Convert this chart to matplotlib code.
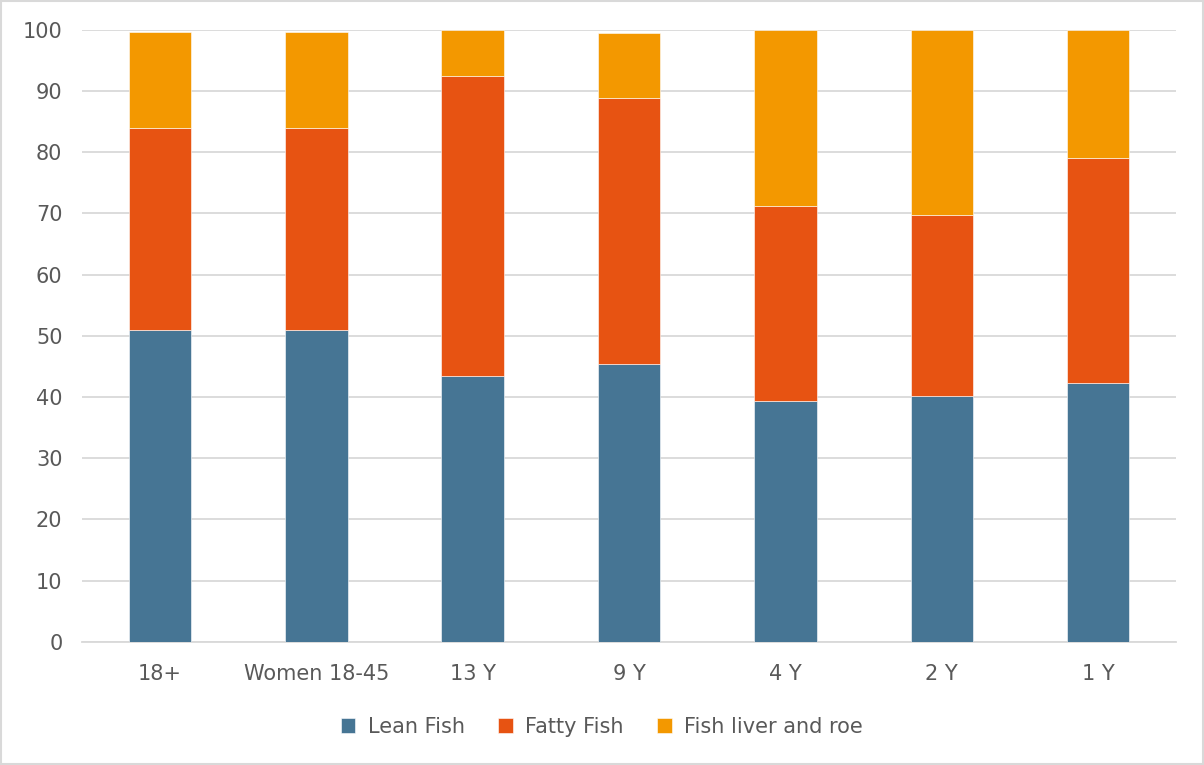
import numpy as np
import matplotlib.pyplot as plt
from matplotlib.patches import Rectangle

# data
categories = ["18+", "Women 18-45", "13 Y", "9 Y", "4 Y", "2 Y", "1 Y"]
lean = [50.9, 50.9, 43.5, 45.4, 39.3, 40.1, 42.3]
fatty = [33.0, 33.0, 48.9, 43.5, 31.9, 29.7, 36.8]
roe = [15.7, 15.7, 7.6, 10.6, 28.8, 30.2, 20.9]

colors = ["#467594", "#E75312", "#F39800"]
labels = ["Lean Fish", "Fatty Fish", "Fish liver and roe"]
text_col = "#595959"

plt.rcParams['font.family'] = ['DejaVu Sans']

fig = plt.figure(figsize=(12.04, 7.65), dpi=100)
ax = fig.add_axes([0.068, 0.161, 0.909, 0.8])

x = np.arange(len(categories))
bottom = np.zeros(len(categories))
for vals, c, lab in zip([lean, fatty, roe], colors, labels):
    ax.bar(x, vals, width=0.4, bottom=bottom, color=c, label=lab,
           edgecolor="white", linewidth=0.4, zorder=3)
    bottom += np.array(vals)

ax.set_ylim(0, 100)
ax.set_xlim(-0.5, len(categories) - 0.5)
ax.set_yticks(range(0, 101, 10))
ax.set_xticks(x)
ax.set_xticklabels(categories)
ax.grid(axis="y", color="#D9D9D9", linewidth=1.3, zorder=0)
for s in ["top", "right", "left"]:
    ax.spines[s].set_visible(False)
ax.spines["bottom"].set_color("#D9D9D9")
ax.spines["bottom"].set_linewidth(1.3)
ax.tick_params(axis="both", length=0, labelsize=15, colors=text_col)
ax.tick_params(axis="x", pad=16)
ax.tick_params(axis="y", pad=14)

leg = fig.legend(loc="center", bbox_to_anchor=(0.5, 0.05), ncol=3,
                 frameon=False, fontsize=15, handlelength=0.7,
                 handleheight=0.7, columnspacing=1.6, handletextpad=0.6)
for t in leg.get_texts():
    t.set_color(text_col)

# thin light border around the whole figure
fig.patches.append(Rectangle((0.001, 0.001), 0.998, 0.998, transform=fig.transFigure,
                             fill=False, edgecolor="#D9D9D9", linewidth=1.5))

fig.savefig("out.png", dpi=100)
